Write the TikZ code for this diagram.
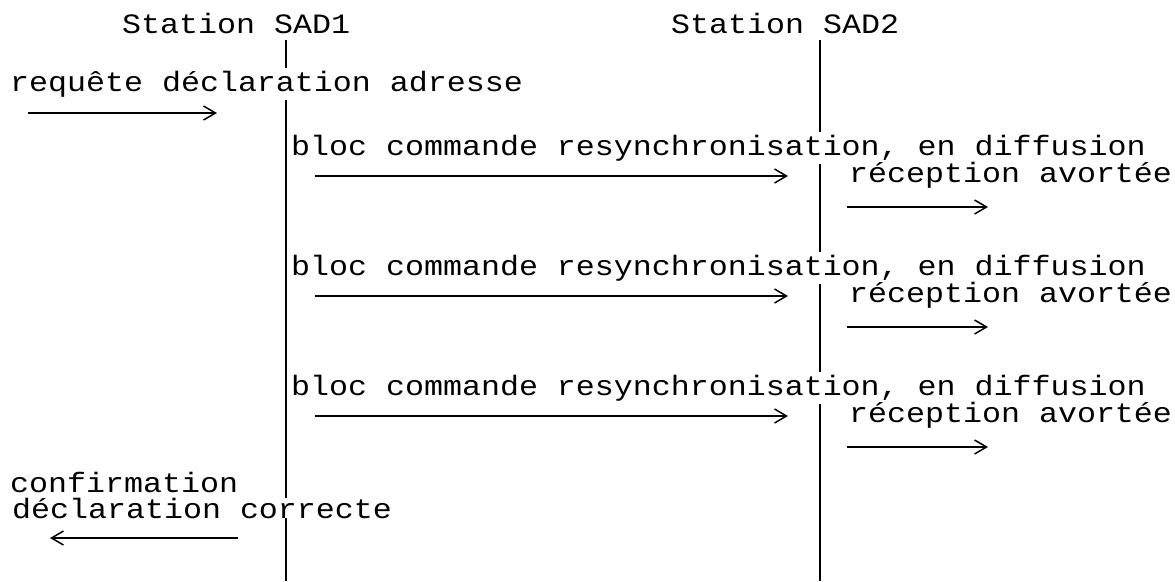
\documentclass[tikz,border=0pt]{standalone}
\usepackage{fontspec}
\setmainfont{Liberation Mono}[FakeStretch=1.13]
\usetikzlibrary{arrows.meta}
\begin{document}
\begin{tikzpicture}[x=1pt,y=-1pt,
  txt/.style={font=\fontsize{28}{28}\selectfont, anchor=base west, inner xsep=0pt, inner ysep=3pt},
  blank/.style={fill=white},
  life/.style={line width=1.8pt},
  msg/.style={line width=1.4pt, -{Straight Barb[length=12pt,width=14pt,line width=1.5pt]}},
]
\useasboundingbox (0,0) rectangle (1175,581);
% lifelines
\coordinate (l1top) at (286,40);
\coordinate (l1bot) at (286,581);
\coordinate (l2top) at (820,40);
\coordinate (l2bot) at (820,581);
\draw[life] (l1top) -- (l1bot);
\draw[life] (l2top) -- (l2bot);
% headers
\node[txt] (s1) at (122,33) {Station SAD1};
\node[txt] (s2) at (671,33) {Station SAD2};
% request
\node[txt,blank] (req) at (10,91) {requête déclaration adresse};
\coordinate (a1s) at (28,113);
\coordinate (a1e) at (217,113);
\draw[msg] (a1s) -- (a1e);
% repeated blocks
\foreach \B [count=\i] in {155,275,395} {
  \node[txt,blank] (bloc\i) at (291,\B) {bloc commande resynchronisation, en diffusion};
  \coordinate (bs\i) at (315,\B+21);
  \coordinate (be\i) at (788,\B+21);
  \draw[msg] (bs\i) -- (be\i);
  \node[txt] (rec\i) at (849,\B+27) {réception avortée};
  \coordinate (rs\i) at (847,\B+52);
  \coordinate (re\i) at (988,\B+52);
  \draw[msg] (rs\i) -- (re\i);
}
% confirmation
\node[txt,blank,inner ysep=0pt] (decl) at (12,518) {déclaration correcte};
\node[txt,inner ysep=0pt] (conf) at (10,492) {confirmation};
\coordinate (cs) at (238,538);
\coordinate (ce) at (50,538);
\draw[msg] (cs) -- (ce);
\end{tikzpicture}
\end{document}
